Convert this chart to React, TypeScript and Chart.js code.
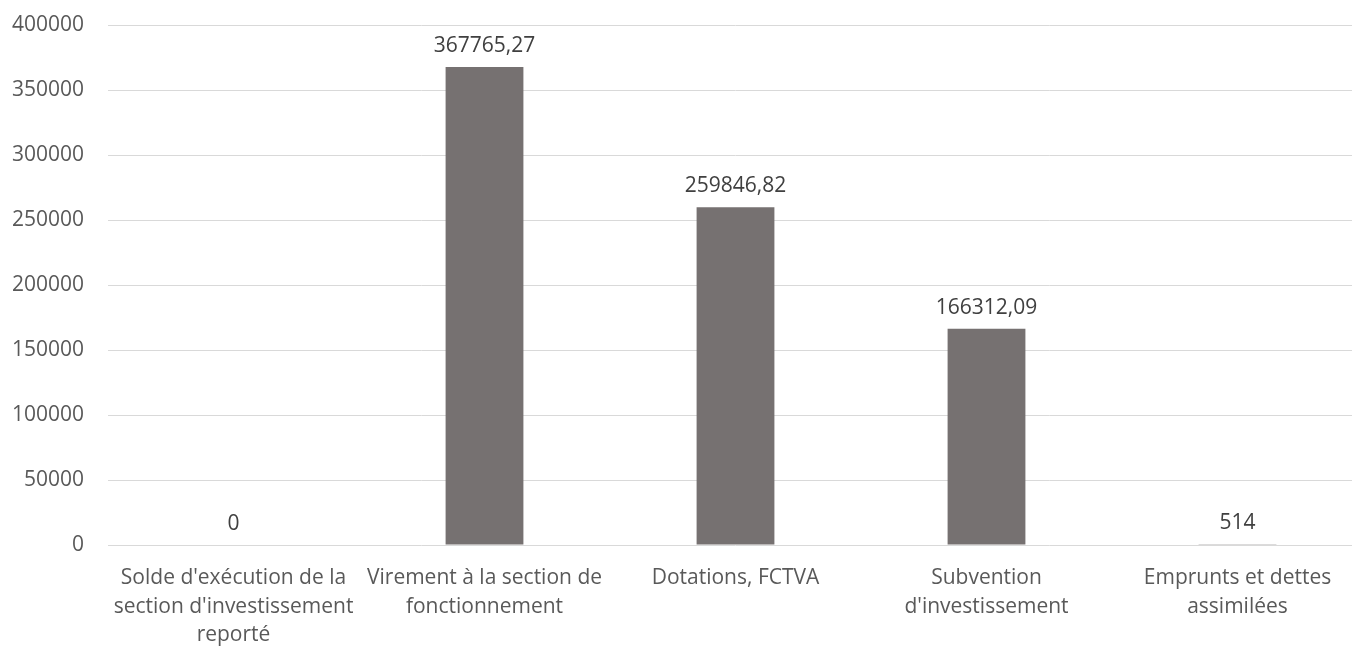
import React, { useEffect, useRef } from "react";
import { Chart, registerables } from "chart.js";

Chart.register(...registerables);

const categories: string[][] = [
  ["Solde d'exécution de la", "section d'investissement", "reporté"],
  ["Virement à la section de", "fonctionnement"],
  ["Dotations, FCTVA"],
  ["Subvention", "d'investissement"],
  ["Emprunts et dettes", "assimilées"],
];
const values: number[] = [0, 367765.27, 259846.82, 166312.09, 514];
const yTicks: number[] = [0, 50000, 100000, 150000, 200000, 250000, 300000, 350000, 400000];

const FONT = "'Open Sans', 'Noto Sans', sans-serif";

const fmt = (v: number) => String(v).replace(".", ",");

const valueLabels = {
  id: "valueLabels",
  afterDatasetsDraw(chart: any) {
    const ctx = chart.ctx;
    const meta = chart.getDatasetMeta(0);
    ctx.save();
    ctx.font = `21px ${FONT}`;
    ctx.fillStyle = "#404040";
    ctx.textAlign = "center";
    ctx.textBaseline = "alphabetic";
    meta.data.forEach((bar: any, i: number) => {
      const v = chart.data.datasets[0].data[i] as number;
      ctx.fillText(fmt(v), bar.x, bar.y - 15);
    });
    ctx.restore();
  },
};

export default function App() {
  const ref = useRef<HTMLCanvasElement>(null);
  useEffect(() => {
    document.body.style.margin = "0";
    document.body.style.overflow = "hidden";
    const chart = new Chart(ref.current!, {
      type: "bar",
      data: {
        labels: categories,
        datasets: [
          {
            data: values,
            backgroundColor: "#767171",
            barPercentage: 0.31,
            categoryPercentage: 1,
          },
        ],
      },
      plugins: [valueLabels],
      options: {
        animation: false,
        responsive: false,
        layout: { padding: { top: 25, right: 0, bottom: 0, left: 0 } },
        plugins: { legend: { display: false }, tooltip: { enabled: false } },
        scales: {
          x: {
            grid: { display: false, drawTicks: false },
            border: { display: false },
            ticks: {
              color: "#595959",
              font: { family: FONT, size: 21, lineHeight: 1.36 },
              padding: 19,
              maxRotation: 0,
              autoSkip: false,
            },
            afterFit: (s: any) => {
              s.height = 101;
              s.paddingLeft = 0;
              s.paddingRight = 0;
            },
          },
          y: {
            min: 0,
            max: 400000,
            afterBuildTicks: (s: any) => {
              s.ticks = yTicks.map((v) => ({ value: v }));
            },
            grid: { color: "#d9d9d9", lineWidth: 1, drawTicks: false },
            border: { display: false },
            ticks: {
              color: "#595959",
              font: { family: FONT, size: 21 },
              padding: 24,
              callback: (v: any) => String(v),
            },
            afterFit: (s: any) => {
              s.width = 108;
              s.paddingTop = 0;
              s.paddingBottom = 0;
            },
          },
        },
      },
    });
    return () => chart.destroy();
  }, []);
  return (
    <div style={{ position: "fixed", left: 0, top: 0, width: 1363, height: 646 }}>
      <canvas ref={ref} width={1363} height={646} />
    </div>
  );
}
